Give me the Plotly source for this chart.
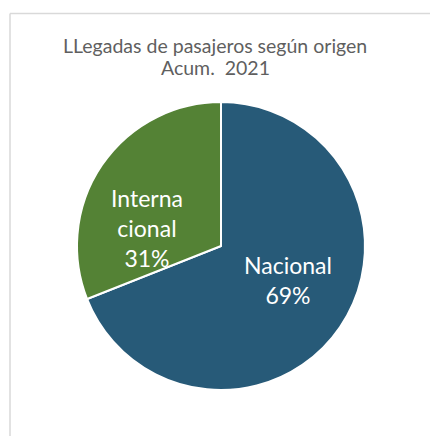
import plotly.graph_objects as go

labels = ["Nacional", "Internacional"]
values = [69, 31]
label_lines = ["Nacional", "Interna<br>cional"]
colors = ["#275A78", "#548235"]
title_lines = ["LLegadas de pasajeros según origen", "Acum.  2021"]

W, H = 430, 436

fig = go.Figure(go.Pie(
    labels=labels,
    values=values,
    textinfo="none",
    sort=False,
    direction="clockwise",
    rotation=0,
    marker=dict(colors=colors, line=dict(color="white", width=2)),
    domain=dict(x=[77 / W, 365 / W], y=[46 / H, 334 / H]),
    showlegend=False,
    hoverinfo="label+percent",
))

total = sum(values)
label_pos = [(288 / W, 1 - 280 / H), (147 / W, 1 - 228 / H)]
annotations = []
for name, v, (ax, ay) in zip(label_lines, values, label_pos):
    annotations.append(dict(
        x=ax, y=ay, xref="paper", yref="paper",
        text=f"{name}<br>{round(100 * v / total)}%",
        showarrow=False, xanchor="center", yanchor="middle",
        font=dict(family="Lato", size=23, color="white"),
    ))

for line, ty in zip(title_lines, [45, 67]):
    annotations.append(dict(
        x=215 / W, y=1 - ty / H, xref="paper", yref="paper",
        text=line, showarrow=False, xanchor="center", yanchor="middle",
        font=dict(family="Lato", size=19.5, color="#5F5F5F"),
    ))

fig.update_layout(
    width=W, height=H,
    margin=dict(l=0, r=0, t=0, b=0),
    paper_bgcolor="white",
    plot_bgcolor="white",
    annotations=annotations,
    shapes=[
        dict(type="line", xref="paper", yref="paper",
             x0=10 / W, x1=1, y0=1 - 13.5 / H, y1=1 - 13.5 / H,
             line=dict(color="#D9D9D9", width=1.5)),
        dict(type="line", xref="paper", yref="paper",
             x0=10 / W, x1=10 / W, y0=0, y1=1 - 13.5 / H,
             line=dict(color="#D9D9D9", width=1.5)),
    ],
)

fig.write_html("out.html")
